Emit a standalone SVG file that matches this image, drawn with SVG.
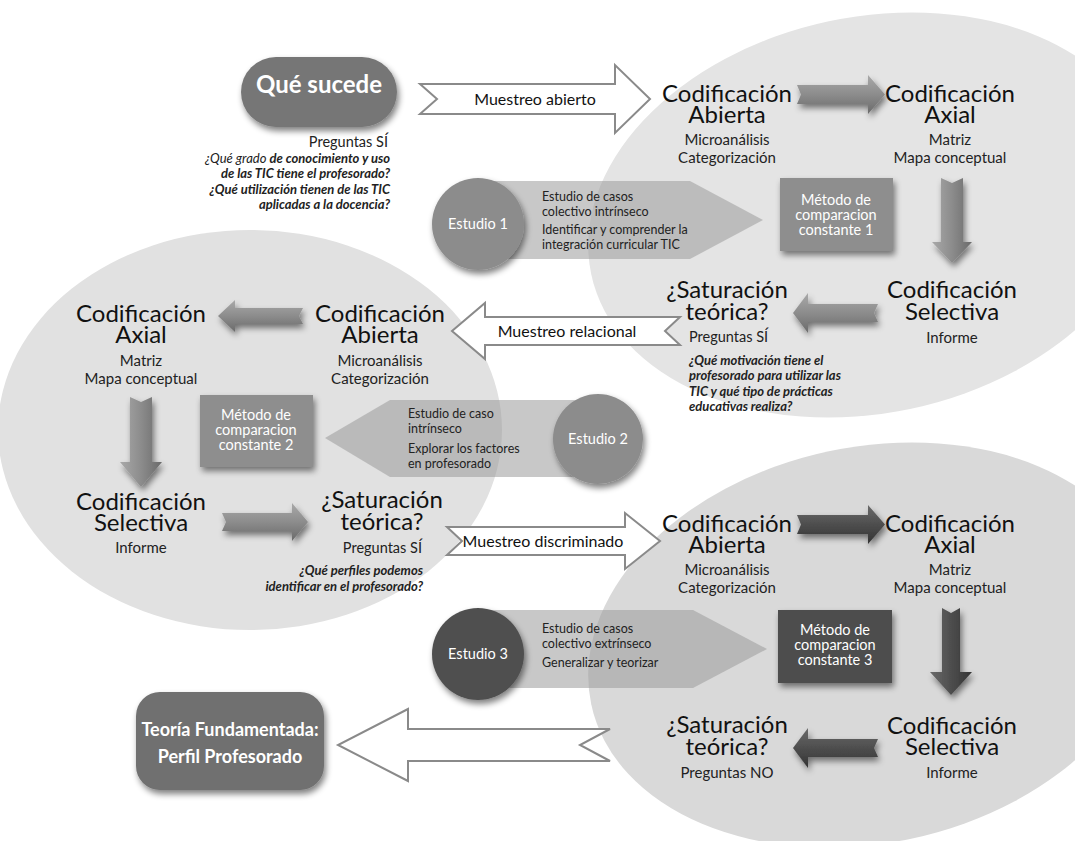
<svg xmlns="http://www.w3.org/2000/svg" width="1075" height="841" viewBox="0 0 1075 841">
<defs>
<filter id="sh" x="-20%" y="-20%" width="150%" height="160%">
<feGaussianBlur in="SourceAlpha" stdDeviation="3"/>
<feOffset dx="2" dy="4" result="o"/>
<feComponentTransfer><feFuncA type="linear" slope="0.5"/></feComponentTransfer>
<feMerge><feMergeNode/><feMergeNode in="SourceGraphic"/></feMerge>
</filter>
<linearGradient id="gH" x1="0" y1="0" x2="0" y2="1"><stop offset="0" stop-color="#a9a9a9"/><stop offset="0.5" stop-color="#8c8c8c"/><stop offset="1" stop-color="#6a6a6a"/></linearGradient>
<linearGradient id="gV" x1="0" y1="0" x2="1" y2="0"><stop offset="0" stop-color="#a9a9a9"/><stop offset="0.5" stop-color="#8c8c8c"/><stop offset="1" stop-color="#6a6a6a"/></linearGradient>
<linearGradient id="dH" x1="0" y1="0" x2="0" y2="1"><stop offset="0" stop-color="#6a6a6a"/><stop offset="0.5" stop-color="#4e4e4e"/><stop offset="1" stop-color="#333"/></linearGradient>
<linearGradient id="dV" x1="0" y1="0" x2="1" y2="0"><stop offset="0" stop-color="#6a6a6a"/><stop offset="0.5" stop-color="#4e4e4e"/><stop offset="1" stop-color="#333"/></linearGradient>
</defs>
<style>
text{font-family:Lato,"Liberation Sans",sans-serif;}
.t{font-size:24px;fill:#111;text-anchor:middle;}
.s{font-size:15px;fill:#222;text-anchor:middle;}
.p{font-size:14.5px;fill:#222;}
.i{font-size:13px;fill:#222;font-style:italic;font-weight:bold;}
.b{font-size:12.5px;fill:#222;}
.w{font-size:14.5px;fill:#fff;text-anchor:middle;}
.m{font-size:16px;fill:#111;text-anchor:middle;}
.W{font-weight:bold;fill:#fff;text-anchor:middle;}
.out{fill:#fff;stroke:#8a8a8a;stroke-width:2;stroke-linejoin:miter;}
.ell1{fill:#e4e4e4;}
.ell2{fill:#e1e1e1;}
.ell3{fill:#d9d9d9;}
.ban{fill:#9a9a9a;fill-opacity:0.55;}
.box{fill:#8e8e8e;}
.boxd{fill:#4e4e4e;}
.circ{fill:#8c8c8c;}
.circd{fill:#505050;}
</style>

<g id="backgrounds">
<ellipse class="ell1" cx="870" cy="215" rx="285" ry="198" transform="rotate(-12 870 215)"/>
<ellipse class="ell2" cx="250" cy="430" rx="252" ry="200"/>
<ellipse class="ell3" cx="870" cy="645" rx="285" ry="198" transform="rotate(-12 870 645)"/>
</g>

<g id="connectors">
<path class="out" d="M420,84 L615,84 L615,65 L650,99 L615,133 L615,114 L420,114 L437,99 Z"/>
<path class="out" d="M680,317 L485,317 L485,303 L452,331 L485,359 L485,345 L680,345 L665,331 Z"/>
<path class="out" d="M447,527 L625,527 L625,513 L660,541 L625,569 L625,555 L447,555 L462,541 Z"/>
<path class="out" d="M610,729 L408,729 L408,709 L338,745 L408,781 L408,761 L610,761 L580,745 Z"/>
<g filter="url(#sh)">
<path fill="url(#gH)" d="M797,85 L868,85 L868,75 L885,94.5 L868,114 L868,104 L797,104 L801,94.5 Z"/>
<path fill="url(#gV)" d="M941,178 L952,183 L963,178 L963,242 L972,242 L952,263 L932,242 L941,242 Z"/>
<path fill="url(#gH)" d="M878,304 L808,304 L808,293 L793,313 L808,333 L808,322 L878,322 L874,313 Z"/>
<path fill="url(#gH)" d="M303,308 L235,308 L235,300 L218,316 L235,332 L235,324 L303,324 L299,316 Z"/>
<path fill="url(#gV)" d="M130,397 L141,402 L152,397 L152,462 L162,462 L141,487 L120,462 L130,462 Z"/>
<path fill="url(#gH)" d="M222,513 L292,513 L292,503 L308,522 L292,541 L292,531 L222,531 L226,522 Z"/>
<path fill="url(#dH)" d="M797,515 L868,515 L868,505 L885,524.5 L868,544 L868,534 L797,534 L801,524.5 Z"/>
<path fill="url(#dV)" d="M942,608 L951,613 L960,608 L960,672 L972,672 L951,695 L930,672 L942,672 Z"/>
<path fill="url(#dH)" d="M878,739 L808,739 L808,728 L793,748 L808,768 L808,757 L878,757 L874,748 Z"/>
</g>
<text class="m" x="535" y="105">Muestreo abierto</text>
<text class="m" x="567" y="337">Muestreo relacional</text>
<text class="m" x="543" y="547">Muestreo discriminado</text>
</g>

<g id="que-sucede">
<rect x="241" y="57" width="156" height="70" rx="35" fill="#767676" filter="url(#sh)"/>
<text class="W" x="319" y="93" font-size="24">Qué sucede</text>
<text class="p" x="388" y="147" text-anchor="end">Preguntas SÍ</text>
<text class="i" x="390" y="163" text-anchor="end"><tspan font-weight="normal">¿Qué grado </tspan>de conocimiento y uso</text>
<text class="i" x="390" y="178" text-anchor="end">de las TIC tiene el profesorado?</text>
<text class="i" x="390" y="194" text-anchor="end">¿Qué utilización tienen de las TIC</text>
<text class="i" x="390" y="209" text-anchor="end">aplicadas a la docencia?</text>
</g>

<g id="estudio1">
<polygon class="ban" points="478,181 690,181 763,220 690,259 478,259"/>
<circle class="circ" cx="478" cy="224" r="46" filter="url(#sh)"/>
<text class="w" x="478" y="229" font-size="15">Estudio 1</text>
<text class="b" x="542" y="201">Estudio de casos</text>
<text class="b" x="542" y="216">colectivo intrínseco</text>
<text class="b" x="542" y="234">Identificar y comprender la</text>
<text class="b" x="542" y="249">integración curricular TIC</text>
</g>

<g id="e1-abierta">
<text class="t" x="727" y="102">Codificación</text>
<text class="t" x="727" y="123">Abierta</text>
<text class="s" x="727" y="145">Microanálisis</text>
<text class="s" x="727" y="163">Categorización</text>
</g>
<g id="e1-axial">
<text class="t" x="950" y="102">Codificación</text>
<text class="t" x="950" y="123">Axial</text>
<text class="s" x="950" y="145">Matriz</text>
<text class="s" x="950" y="163">Mapa conceptual</text>
</g>
<g id="e1-metodo">
<rect class="box" x="780" y="178" width="113" height="73" filter="url(#sh)"/>
<text class="w" x="836" y="205">Método de</text>
<text class="w" x="836" y="220">comparacion</text>
<text class="w" x="836" y="235">constante 1</text>
</g>
<g id="e1-saturacion">
<text class="t" x="727" y="298">¿Saturación</text>
<text class="t" x="727" y="320">teórica?</text>
<text class="p" x="689" y="342">Preguntas SÍ</text>
<text class="i" x="689" y="365">¿Qué motivación tiene el</text>
<text class="i" x="689" y="380">profesorado para utilizar las</text>
<text class="i" x="689" y="396">TIC y qué tipo de prácticas</text>
<text class="i" x="689" y="411">educativas realiza?</text>
</g>
<g id="e1-selectiva">
<text class="t" x="952" y="298">Codificación</text>
<text class="t" x="952" y="320">Selectiva</text>
<text class="s" x="952" y="343">Informe</text>
</g>

<g id="e2-axial">
<text class="t" x="141" y="322">Codificación</text>
<text class="t" x="141" y="343">Axial</text>
<text class="s" x="141" y="366">Matriz</text>
<text class="s" x="141" y="384">Mapa conceptual</text>
</g>
<g id="e2-abierta">
<text class="t" x="380" y="322">Codificación</text>
<text class="t" x="380" y="343">Abierta</text>
<text class="s" x="380" y="366">Microanálisis</text>
<text class="s" x="380" y="384">Categorización</text>
</g>
<g id="estudio2">
<polygon class="ban" points="598,400 390,400 325,438 390,477 598,477"/>
<circle class="circ" cx="598" cy="439" r="45" filter="url(#sh)"/>
<text class="w" x="598" y="444" font-size="15">Estudio 2</text>
<text class="b" x="408" y="418">Estudio de caso</text>
<text class="b" x="408" y="433">intrínseco</text>
<text class="b" x="408" y="453">Explorar los factores</text>
<text class="b" x="408" y="468">en profesorado</text>
</g>
<g id="e2-metodo">
<rect class="box" x="200" y="395" width="113" height="72" filter="url(#sh)"/>
<text class="w" x="256" y="420">Método de</text>
<text class="w" x="256" y="435">comparacion</text>
<text class="w" x="256" y="450">constante 2</text>
</g>
<g id="e2-selectiva">
<text class="t" x="141" y="510">Codificación</text>
<text class="t" x="141" y="531">Selectiva</text>
<text class="s" x="141" y="553">Informe</text>
</g>
<g id="e2-saturacion">
<text class="t" x="382" y="508">¿Saturación</text>
<text class="t" x="382" y="530">teórica?</text>
<text class="p" x="422" y="553" text-anchor="end">Preguntas SÍ</text>
<text class="i" x="423" y="575" text-anchor="end">¿Qué perfiles podemos</text>
<text class="i" x="423" y="591" text-anchor="end">identificar en el profesorado?</text>
</g>

<g id="e3-abierta">
<text class="t" x="727" y="532">Codificación</text>
<text class="t" x="727" y="553">Abierta</text>
<text class="s" x="727" y="575">Microanálisis</text>
<text class="s" x="727" y="593">Categorización</text>
</g>
<g id="e3-axial">
<text class="t" x="950" y="532">Codificación</text>
<text class="t" x="950" y="553">Axial</text>
<text class="s" x="950" y="575">Matriz</text>
<text class="s" x="950" y="593">Mapa conceptual</text>
</g>
<g id="estudio3">
<polygon class="ban" points="478,610 693,610 767,649 693,688 478,688"/>
<circle class="circd" cx="478" cy="654" r="46" filter="url(#sh)"/>
<text class="w" x="478" y="659" font-size="15">Estudio 3</text>
<text class="b" x="542" y="633">Estudio de casos</text>
<text class="b" x="542" y="648">colectivo extrínseco</text>
<text class="b" x="542" y="667">Generalizar y teorizar</text>
</g>
<g id="e3-metodo">
<rect class="boxd" x="778" y="610" width="114" height="73" filter="url(#sh)"/>
<text class="w" x="835" y="635">Método de</text>
<text class="w" x="835" y="650">comparacion</text>
<text class="w" x="835" y="665">constante 3</text>
</g>
<g id="e3-saturacion">
<text class="t" x="727" y="733">¿Saturación</text>
<text class="t" x="727" y="755">teórica?</text>
<text class="s" x="727" y="778">Preguntas NO</text>
</g>
<g id="e3-selectiva">
<text class="t" x="952" y="734">Codificación</text>
<text class="t" x="952" y="755">Selectiva</text>
<text class="s" x="952" y="778">Informe</text>
</g>

<g id="teoria">
<rect x="136" y="692" width="188" height="98" rx="24" fill="#707070" filter="url(#sh)"/>
<text class="W" x="230" y="736" font-size="18">Teoría Fundamentada:</text>
<text class="W" x="230" y="763" font-size="18">Perfil Profesorado</text>
</g>
</svg>
